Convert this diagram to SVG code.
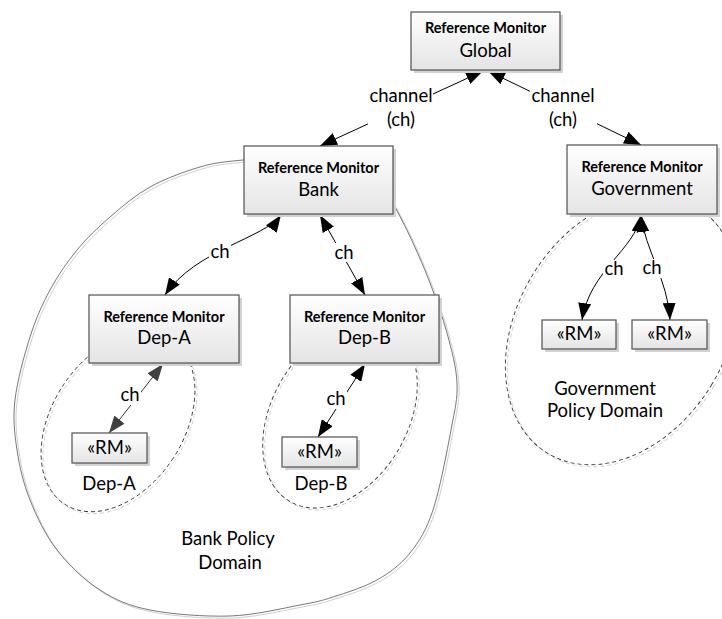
<svg xmlns="http://www.w3.org/2000/svg" width="722" height="619" viewBox="0 0 722 619">
<defs>
<linearGradient id="gfill" x1="0" y1="0" x2="0" y2="1">
<stop offset="0" stop-color="#ffffff"/>
<stop offset="1" stop-color="#e4e4e4"/>
</linearGradient>
<marker id="ah" viewBox="0 0 17 13" refX="17" refY="6.5" markerWidth="17" markerHeight="13" markerUnits="userSpaceOnUse" orient="auto-start-reverse">
<path d="M0,0 L17,6.5 L0,13 z" fill="#000"/>
</marker>
<marker id="ahg" viewBox="0 0 17 13" refX="17" refY="6.5" markerWidth="17" markerHeight="13" markerUnits="userSpaceOnUse" orient="auto-start-reverse">
<path d="M0,0 L17,6.5 L0,13 z" fill="#404040"/>
</marker>
<path id="bankshape" d="M243,160 C263,158 294.67,147.17 320,155 C345.33,162.83 386,190 395,207 C404,224 407.17,230.33 413,243 C418.83,255.67 424.33,268 430,283 C435.67,298 442.5,316.33 447,333 C451.5,349.67 456.33,366.83 457,383 C457.67,399.17 455,408.83 451,430 C447,451.17 439.83,489.5 433,510 C426.17,530.5 419.33,541.33 410,553 C400.67,564.67 389.83,572.67 377,580 C364.17,587.33 345.83,592.83 333,597 C320.17,601.17 317.17,601.83 300,605 C282.83,608.17 255,615.17 230,616 C205,616.83 171.67,614.33 150,610 C128.33,605.67 115.5,600 100,590 C84.5,580 68.67,565 57,550 C45.33,535 36.67,516.67 30,500 C23.33,483.33 19.5,466.67 17,450 C14.5,433.33 12.830,418.83 15,400 C17.17,381.17 24.17,355.33 30,337 C35.83,318.67 42.17,304.5 50,290 C57.83,275.5 67,262.17 77,250 C87,237.83 97.83,227.5 110,217 C122.17,206.5 135,195.33 150,187 C165,178.67 184.5,171.5 200,167 C215.5,162.5 223,162 243,160 Z"/>
<style>
.box{fill:url(#gfill);stroke:#505050;stroke-width:1.2}
.sh{fill:#d2d2d2}
.t{font-family:Lato,"Liberation Sans",sans-serif;font-size:18.5px;fill:#000;text-anchor:middle}
.tb{font-weight:bold;font-size:14.5px}
.conn{fill:none;stroke:#000;stroke-width:1}
.conng{fill:none;stroke:#333;stroke-width:1}
.dash{fill:none;stroke:#3a3a3a;stroke-width:0.9;stroke-dasharray:4 3}
.dashsh{fill:none;stroke:#cfcfcf;stroke-width:0.9;stroke-dasharray:4 3}
.outer{fill:none;stroke:#555;stroke-width:0.8}
.outersh{fill:none;stroke:#d0d0d0;stroke-width:1}
.lbg{fill:#fff}
</style>
</defs>
<rect width="722" height="619" fill="#fff"/>

<g id="bank-domain">
<use href="#bankshape" class="outersh" transform="translate(2,2)"/>
<use href="#bankshape" class="outer"/>
<text class="t" x="228" y="545">Bank Policy</text>
<text class="t" x="230" y="569">Domain</text>
</g>

<g id="depa-domain">
<ellipse class="dashsh" cx="120" cy="424" rx="66" ry="98" transform="rotate(33 120 424)"/>
<ellipse class="dash" cx="118" cy="422" rx="66" ry="98" transform="rotate(33 118 422)"/>
<text class="t" x="109" y="490">Dep-A</text>
</g>

<g id="depb-domain">
<ellipse class="dashsh" cx="342" cy="417" rx="68" ry="100" transform="rotate(30 342 417)"/>
<ellipse class="dash" cx="340" cy="415" rx="68" ry="100" transform="rotate(30 340 415)"/>
<text class="t" x="321" y="490">Dep-B</text>
</g>

<g id="gov-domain">
<ellipse class="dashsh" cx="624" cy="332" rx="105" ry="144" transform="rotate(31 624 332)"/>
<ellipse class="dash" cx="622" cy="330" rx="105" ry="144" transform="rotate(31 622 330)"/>
<text class="t" x="605" y="395">Government</text>
<text class="t" x="605" y="417">Policy Domain</text>
</g>

<g id="connectors">
<path class="conn" d="M483,71 L320,146" marker-start="url(#ah)" marker-end="url(#ah)"/>
<path class="conn" d="M488,71 L641,145" marker-start="url(#ah)" marker-end="url(#ah)"/>
<path class="conn" d="M281,215 C265,238 195,250 165,295" marker-start="url(#ah)" marker-end="url(#ah)"/>
<path class="conn" d="M320,215 L365,295" marker-start="url(#ah)" marker-end="url(#ah)"/>
<path class="conng" d="M163,364 L109,433" marker-start="url(#ahg)" marker-end="url(#ahg)"/>
<path class="conn" d="M365,364 L318,437" marker-start="url(#ah)" marker-end="url(#ah)"/>
<path class="conn" d="M641,215 C635,250 590,270 582,320" marker-start="url(#ah)" marker-end="url(#ah)"/>
<path class="conn" d="M641,215 C645,250 668,280 670,320" marker-start="url(#ah)" marker-end="url(#ah)"/>
<rect class="lbg" x="368" y="86" width="65" height="44"/>
<text class="t" x="401" y="102">channel</text>
<text class="t" x="401" y="126">(ch)</text>
<rect class="lbg" x="530" y="86" width="67" height="44"/>
<text class="t" x="563" y="102">channel</text>
<text class="t" x="563" y="126">(ch)</text>
<rect class="lbg" x="209" y="242" width="22" height="20"/>
<text class="t" x="220" y="258">ch</text>
<rect class="lbg" x="334" y="243" width="22" height="19"/>
<text class="t" x="344" y="259">ch</text>
<rect class="lbg" x="119" y="386" width="22" height="19"/>
<text class="t" x="130" y="401">ch</text>
<rect class="lbg" x="326" y="390" width="21" height="19"/>
<text class="t" x="336" y="405">ch</text>
<rect class="lbg" x="603" y="260" width="22" height="19"/>
<text class="t" x="614" y="275">ch</text>
<rect class="lbg" x="642" y="259" width="21" height="19"/>
<text class="t" x="652" y="274">ch</text>
</g>

<g id="global">
<rect class="sh" x="414" y="15" width="149" height="58"/>
<rect class="box" x="411" y="12" width="149" height="58"/>
<text class="t tb" x="485.5" y="33">Reference Monitor</text>
<text class="t" x="485.5" y="57">Global</text>
</g>

<g id="bank">
<rect class="sh" x="247" y="149" width="149" height="68"/>
<rect class="box" x="244" y="146" width="149" height="68"/>
<text class="t tb" x="318.5" y="173">Reference Monitor</text>
<text class="t" x="318.5" y="196">Bank</text>
</g>

<g id="government">
<rect class="sh" x="570" y="148" width="150" height="69"/>
<rect class="box" x="567" y="145" width="150" height="69"/>
<text class="t tb" x="642" y="172">Reference Monitor</text>
<text class="t" x="642" y="195">Government</text>
</g>

<g id="dep-a">
<rect class="sh" x="92" y="298" width="150" height="68"/>
<rect class="box" x="89" y="295" width="150" height="68"/>
<text class="t tb" x="164" y="322">Reference Monitor</text>
<text class="t" x="164" y="344">Dep-A</text>
</g>

<g id="dep-b">
<rect class="sh" x="293" y="298" width="149" height="68"/>
<rect class="box" x="290" y="295" width="149" height="68"/>
<text class="t tb" x="364.5" y="322">Reference Monitor</text>
<text class="t" x="364.5" y="344">Dep-B</text>
</g>

<g id="rm-dep-a">
<rect class="sh" x="75" y="436" width="75" height="30"/>
<rect class="box" x="72" y="433" width="75" height="30"/>
<text class="t" x="109.5" y="454">«RM»</text>
</g>

<g id="rm-dep-b">
<rect class="sh" x="285" y="440" width="75" height="30"/>
<rect class="box" x="282" y="437" width="75" height="30"/>
<text class="t" x="319.5" y="458">«RM»</text>
</g>

<g id="rm-gov-1">
<rect class="sh" x="545" y="323" width="74" height="29"/>
<rect class="box" x="542" y="320" width="74" height="29"/>
<text class="t" x="579" y="340">«RM»</text>
</g>

<g id="rm-gov-2">
<rect class="sh" x="635" y="323" width="75" height="29"/>
<rect class="box" x="632" y="320" width="75" height="29"/>
<text class="t" x="669.5" y="340">«RM»</text>
</g>
</svg>
